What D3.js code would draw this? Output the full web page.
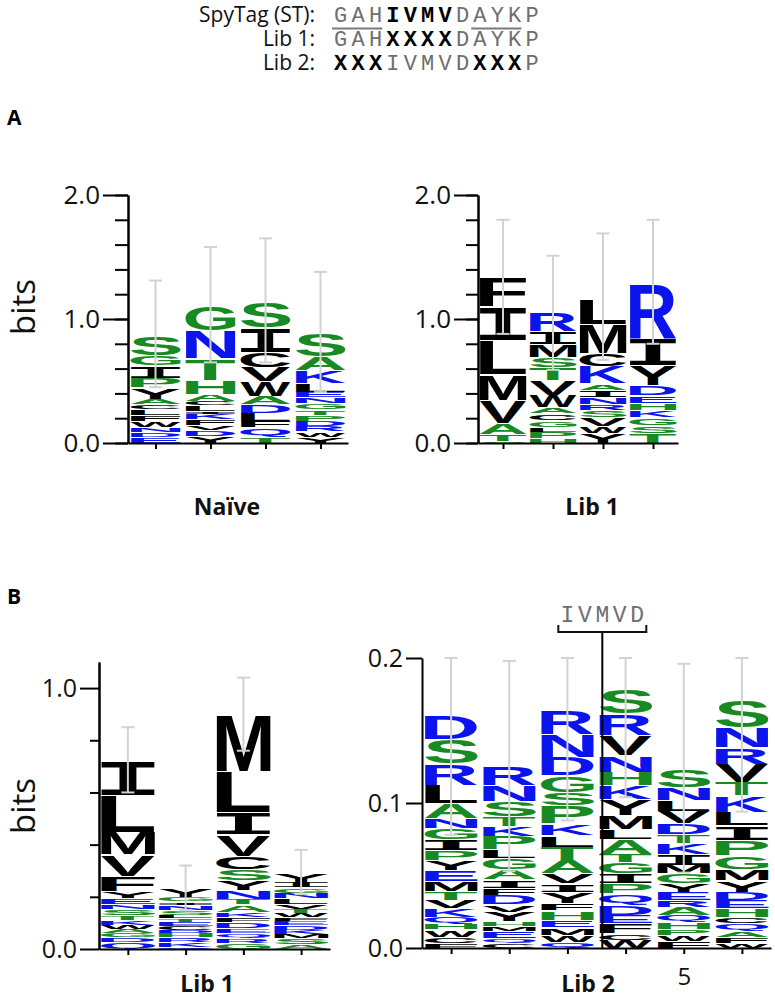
<!DOCTYPE html>
<html><head><meta charset="utf-8">
<script src="https://cdn.jsdelivr.net/npm/d3@7"></script>
<style>body{margin:0;background:#fff}</style>
</head><body>
<svg id="c" width="775" height="1000"></svg>
<script>
// ---------------- DATA ----------------
const headerLabels = ["SpyTag (ST):", "Lib 1:", "Lib 2:"];
const headerSeqs   = ["GAHIVMVDAYKP", "GAHXXXXDAYKP", "XXXIVMVDXXXP"];
const headerBold   = ["000111100000", "000111100000", "111000001110"];
const stUnderlines = [[0, 3], [8, 11]];

// columns listed top -> bottom, [residue, bits]
const naiveCols = [
  [["S",.161],["G",.08],["I",.1],["P",.08],["Y",.09],["A",.045],["C",.04],["L",.046],["F",.048],["W",.051],["N",.04],["D",.04],["E",.048]],
  [["G",.2],["N",.228],["T",.175],["H",.113],["A",.054],["C",.035],["L",.045],["I",.025],["K",.045],["F",.045],["V",.04],["D",.045],["Y",.06]],
  [["S",.207],["I",.202],["C",.121],["V",.116],["W",.116],["A",.065],["D",.07],["L",.065],["F",.054],["Q",.075],["T",.051]],
  [["S",.188],["A",.108],["K",.102],["L",.073],["E",.046],["N",.048],["G",.048],["T",.043],["P",.048],["D",.043],["R",.043],["W",.043],["Y",.051]]
];
const naiveErr = [[0.45,1.31],[0.65,1.58],[0.65,1.65],[0.41,1.38]];

const lib1aCols = [
  [["F",.242],["I",.269],["L",.274],["M",.21],["V",.183],["A",.091],["T",.054],["S",.018]],
  [["R",.153],["I",.108],["M",.102],["S",.086],["T",.102],["V",.121],["W",.099],["A",.048],["C",.054],["G",.054],["L",.04],["P",.054],["H",.038]],
  [["L",.207],["M",.237],["C",.102],["K",.14],["A",.054],["I",.059],["N",.054],["R",.048],["S",.059],["V",.07],["W",.059],["Y",.078]],
  [["R",.444],["I",.215],["Y",.161],["D",.081],["E",.062],["H",.059],["K",.059],["G",.062],["S",.062],["T",.083]]
];
const lib1aErr = [[0.88,1.80],[0.59,1.51],[0.67,1.69],[0.80,1.80]];

const lib1bCols = [
  [["I",.132],["L",.14],["M",.086],["V",.084],["F",.056],["Y",.029],["E",.022],["N",.02],["S",.022],["T",.019],["K",.019],["W",.017],["A",.015],["G",.015],["D",.017],["Q",.028]],
  [["Y",.031],["G",.017],["I",.013],["N",.019],["S",.019],["L",.013],["T",.013],["E",.017],["C",.015],["D",.013],["H",.015],["R",.017],["K",.019],["Q",.009]],
  [["M",.22],["L",.157],["I",.086],["V",.084],["C",.049],["S",.043],["Y",.038],["N",.032],["T",.022],["A",.029],["K",.019],["F",.019],["D",.022],["E",.02],["Q",.018],["R",.02],["G",.024]],
  [["Y",.034],["I",.022],["G",.02],["N",.022],["L",.022],["V",.02],["T",.015],["W",.015],["F",.013],["E",.018],["D",.018],["K",.015],["M",.017],["S",.022],["A",.019]]
];
const lib1bErr = [[0.60,0.85],[0.15,0.32],[0.76,1.04],[0.21,0.38]];

const lib2Cols = [
  [["D",.0161],["S",.0172],["R",.0149],["L",.0126],["A",.0103],["N",.0069],["G",.0076],["I",.0074],["P",.0069],["Y",.0069],["E",.0074],["M",.0071],["T",.0062],["V",.0057],["K",.0057],["Q",.0046],["H",.0041],["W",.0051],["C",.0046],["F",.0032]],
  [["R",.0131],["N",.011],["S",.0103],["T",.0069],["K",.0069],["P",.0092],["L",.0057],["G",.008],["A",.0069],["I",.0057],["F",.0051],["D",.0064],["V",.0051],["Y",.0064],["H",.0034],["M",.0034],["E",.0053],["Q",.0034],["C",.0032]],
  [["R",.0161],["N",.0161],["D",.0126],["G",.0115],["S",.0092],["P",.0126],["K",.008],["L",.008],["T",.0092],["A",.0092],["V",.0069],["I",.0057],["Y",.008],["F",.0051],["H",.0064],["E",.0051],["M",.0053],["W",.0046],["Q",.0044]],
  [["S",.0172],["R",.0149],["V",.0138],["N",.0115],["H",.0092],["K",.0092],["Y",.0115],["M",.0092],["L",.0069],["A",.0103],["T",.0057],["G",.008],["I",.0069],["P",.0069],["Q",.008],["D",.0069],["E",.0057],["F",.0069],["C",.0046],["W",.0055]],
  [["S",.0124],["N",.0083],["L",.0078],["V",.0083],["D",.0078],["T",.0064],["K",.0074],["I",.0076],["M",.0057],["G",.0069],["Y",.0057],["E",.0057],["R",.0046],["A",.0057],["Q",.0046],["H",.0053],["P",.0039],["W",.0039],["F",.0051]],
  [["S",.0184],["N",.0138],["R",.0115],["V",.0126],["T",.0092],["K",.0115],["L",.0092],["I",.0103],["P",.0103],["G",.0092],["M",.008],["Y",.008],["D",.0057],["E",.0057],["H",.0057],["C",.0046],["Q",.0046],["A",.0046],["F",.0046],["W",.0032]]
];
const lib2Err = [[0.078,0.200],[0.053,0.198],[0.088,0.200],[0.104,0.200],[0.052,0.196],[0.094,0.200]];
const lib2XTickLabels = {5: "5"};
const motifLabel = "IVMVD";

// ---------------- STYLE ----------------
const GREEN = "#178a24", BLUE = "#0c14ee", BLACK = "#000";
const greenSet = "SGTPAH", blueSet = "NDEKRQ";
const colorOf = ch => greenSet.includes(ch) ? GREEN : blueSet.includes(ch) ? BLUE : BLACK;
const SANS = "'Open Sans', 'Liberation Sans', sans-serif";
const MONO = "'Liberation Mono', monospace";
const ERR = "#d2d2d2";

const svg = d3.select("#c");

// glyph metrics via canvas
const ctx = document.createElement("canvas").getContext("2d");
const mcache = {};
const glyphFont = ch => ch === "I" ? "'Liberation Mono'" : "'Liberation Sans'";
function metrics(ch) {
  if (mcache[ch]) return mcache[ch];
  ctx.font = "bold 100px " + glyphFont(ch);
  const m = ctx.measureText(ch);
  let l = m.actualBoundingBoxLeft, r = m.actualBoundingBoxRight, a = m.actualBoundingBoxAscent, d = m.actualBoundingBoxDescent;
  if (!(r + l > 0) || !(a + d > 0)) { l = 0; r = 70; a = 72; d = 0; }
  return (mcache[ch] = {l, r, a, d});
}
function drawGlyph(g, ch, x0, y0, w, h) {
  if (h <= 0.05) return;
  const m = metrics(ch);
  const gw = m.l + m.r, gh = m.a + m.d;
  g.append("text")
    .attr("transform", `translate(${x0},${y0}) scale(${w / gw},${h / gh}) translate(${m.l},${m.a})`)
    .attr("font-family", glyphFont(ch))
    .attr("font-weight", "bold")
    .attr("font-size", 100)
    .attr("fill", colorOf(ch))
    .text(ch);
}

// ---------------- HEADER ----------------
const pitch = 17.4, seqX = 332, labelX = 315, rowBase = [22, 46, 70];
headerLabels.forEach((lab, r) => {
  svg.append("text").attr("x", labelX).attr("y", rowBase[r]).attr("text-anchor", "end")
    .attr("font-family", SANS).attr("font-size", 21).attr("fill", "#111").text(lab);
  [...headerSeqs[r]].forEach((c, i) => {
    const bold = headerBold[r][i] === "1";
    svg.append("text").attr("x", seqX + (i + 0.5) * pitch).attr("y", rowBase[r])
      .attr("text-anchor", "middle").attr("font-family", MONO).attr("font-size", 22)
      .attr("font-weight", bold ? "bold" : "normal").attr("fill", bold ? "#000" : "#6e6e6e").text(c);
  });
});
stUnderlines.forEach(([a, b]) => {
  svg.append("line").attr("x1", seqX + a * pitch).attr("x2", seqX + b * pitch - 2)
    .attr("y1", 28.5).attr("y2", 28.5).attr("stroke", "#7a7a7a").attr("stroke-width", 2);
});

// panel letters
svg.append("text").attr("x", 7).attr("y", 125).attr("font-family", SANS).attr("font-weight", "bold").attr("font-size", 21).text("A");
svg.append("text").attr("x", 7).attr("y", 604).attr("font-family", SANS).attr("font-weight", "bold").attr("font-size", 21).text("B");

// ---------------- PANELS ----------------
function panel(cfg) {
  const g = svg.append("g");
  const n = cfg.cols.length;
  const x = d3.scaleLinear().domain([0.5, n + 0.5]).range(cfg.xr);
  const y = d3.scaleLinear().domain(cfg.yd).range(cfg.yr);
  const step = x(2) - x(1), w = step * cfg.wFrac;

  // stacks
  const lg = g.append("g");
  cfg.cols.forEach((col, i) => {
    let base = 0;
    col.slice().reverse().forEach(([ch, h]) => {
      const yTop = y(base + h), yBot = y(base);
      const hh = yBot - yTop;
      const gap = Math.min(1, hh * 0.2);
      drawGlyph(lg, ch, x(i + 1) - w / 2, yTop + gap, w, hh - gap);
      base += h;
    });
  });

  // error bars
  const eg = g.append("g").attr("stroke", ERR).attr("stroke-width", 2).attr("fill", "none");
  cfg.errs.forEach(([lo, hi], i) => {
    const cx = x(i + 1);
    eg.append("line").attr("x1", cx).attr("x2", cx).attr("y1", y(lo)).attr("y2", y(hi));
    [lo, hi].forEach(v => eg.append("line").attr("x1", cx - 6.5).attr("x2", cx + 6.5).attr("y1", y(v)).attr("y2", y(v)));
  });

  // y axis
  const axStyle = sel => {
    sel.selectAll("path,line").attr("stroke", "#000").attr("stroke-width", 2);
    sel.selectAll("text").attr("font-family", SANS).attr("font-size", cfg.tickFont).attr("fill", "#111");
  };
  if (cfg.minor.length) {
    g.append("g").attr("transform", `translate(${cfg.xr[0]},0)`)
      .call(d3.axisLeft(y).tickValues(cfg.minor).tickSize(cfg.minorLen).tickSizeOuter(0).tickFormat(""))
      .call(axStyle);
  }
  g.append("g").attr("transform", `translate(${cfg.xr[0]},0)`)
    .call(d3.axisLeft(y).tickValues(cfg.major).tickSize(cfg.majorLen).tickSizeOuter(0).tickPadding(3).tickFormat(d3.format(cfg.fmt)))
    .call(axStyle);

  // x axis
  g.append("g").attr("transform", `translate(0,${cfg.yr[0]})`)
    .call(d3.axisBottom(x).tickValues(d3.range(1, n + 1)).tickSize(6).tickSizeOuter(0).tickPadding(14)
      .tickFormat(d => (cfg.xLabels && cfg.xLabels[d]) || ""))
    .call(axStyle)
    .call(s => s.selectAll("text").attr("font-size", 24));

  // bottom title
  g.append("text").attr("x", cfg.titleX).attr("y", cfg.titleY).attr("text-anchor", "middle")
    .attr("font-family", SANS).attr("font-weight", "bold").attr("font-size", 23).attr("fill", "#111").text(cfg.title);
  return {x, y, g};
}

panel({cols: naiveCols, errs: naiveErr, xr: [128, 348], yd: [0, 2], yr: [443, 195], wFrac: 0.91,
  minor: d3.range(0, 2.01, 0.2), minorLen: 13, major: [0, 1, 2], majorLen: 25, fmt: ".1f", tickFont: 26,
  title: "Naïve", titleX: 227, titleY: 515});
panel({cols: lib1aCols, errs: lib1aErr, xr: [478, 678], yd: [0, 2], yr: [443, 195], wFrac: 0.94,
  minor: d3.range(0, 2.01, 0.2), minorLen: 12, major: [0, 1, 2], majorLen: 24, fmt: ".1f", tickFont: 26,
  title: "Lib 1", titleX: 592, titleY: 515});
panel({cols: lib1bCols, errs: lib1bErr, xr: [99, 330], yd: [0, 1.1], yr: [949, 662], wFrac: 0.94,
  minor: [0.2, 0.4, 0.6, 0.8], minorLen: 9, major: [0, 1], majorLen: 19, fmt: ".1f", tickFont: 25,
  title: "Lib 1", titleX: 207, titleY: 992});
const p2 = panel({cols: lib2Cols, errs: lib2Err, xr: [422, 771], yd: [0, 0.2], yr: [948, 658], wFrac: 0.91,
  minor: [], minorLen: 0, major: [0, 0.1, 0.2], majorLen: 16, fmt: ".1f", tickFont: 25, xLabels: lib2XTickLabels,
  title: "Lib 2", titleX: 588, titleY: 992});

// motif divider + bracket
const mx = p2.x(3.6);
const ann = svg.append("g").attr("stroke-width", 2).attr("fill", "none");
ann.append("line").attr("x1", mx).attr("x2", mx).attr("y1", 632).attr("y2", p2.y(0)).attr("stroke", "#000");
ann.append("path").attr("d", `M${mx - 44},625V632H${mx + 44}V625`).attr("stroke", "#111");
[...motifLabel].forEach((c, i) => {
  svg.append("text").attr("x", mx + (i - 2) * pitch).attr("y", 622).attr("text-anchor", "middle")
    .attr("font-family", MONO).attr("font-size", 23).attr("fill", "#6e6e6e").text(c);
});

// y titles
[[35, 307], [35, 806]].forEach(([tx, ty]) => {
  svg.append("text").attr("transform", `translate(${tx},${ty}) rotate(-90)`).attr("text-anchor", "middle")
    .attr("font-family", SANS).attr("font-size", 33).attr("fill", "#111").text("bits");
});
</script>
</body></html>
